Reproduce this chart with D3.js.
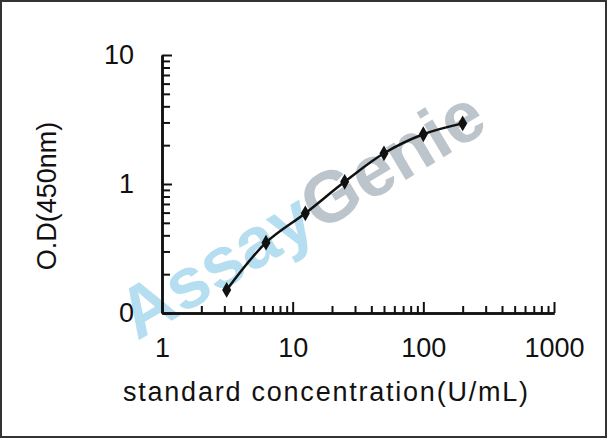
<!DOCTYPE html>
<html>
<head>
<meta charset="utf-8">
<script src="https://cdn.jsdelivr.net/npm/d3@7"></script>
<style>
  body { margin: 0; background: #fff; }
  svg { display: block; font-family: "Liberation Sans", Arial, sans-serif; }
</style>
</head>
<body>
<svg id="chart" width="608" height="441"></svg>
<script>
// standard curve
var concentration = [3.125, 6.25, 12.5, 25, 50, 100, 200];
var od = [0.151, 0.351, 0.593, 1.04, 1.73, 2.43, 2.95];

var xMajor = [1, 10, 100, 1000];
var xLabels = ["1", "10", "100", "1000"];
var yMajor = [0.1, 1, 10];
var yLabels = ["0", "1", "10"];

var xTitle = "standard concentration(U/mL)";
var yTitle = "O.D(450nm)";

var svg = d3.select("#chart");

var x = d3.scaleLog().domain([1, 1000]).range([162, 554]);
var y = d3.scaleLog().domain([0.1, 10]).range([313, 55]);

var xMinor = x.ticks().filter((t) => xMajor.indexOf(t) < 0);
var yMinor = y.ticks().filter((t) => yMajor.indexOf(t) < 0);

// outer frame
svg.append("rect")
  .attr("x", 1).attr("y", 1)
  .attr("width", 605).attr("height", 436)
  .attr("fill", "none")
  .attr("stroke", "#333")
  .attr("stroke-width", 2);

// watermark, sits under the plot
var wm = svg.append("text")
  .attr("transform", "translate(314,235) rotate(-31)")
  .attr("text-anchor", "middle")
  .style("font-size", "72px")
  .style("font-weight", "bold");
wm.append("tspan").attr("fill", "#b6def1").text("Assay");
wm.append("tspan").attr("fill", "#bcc4cc").text("Genie");

function styleAxis(g) {
  g.selectAll("path, line").attr("stroke", "#111").attr("stroke-width", 2);
  g.selectAll("text").attr("fill", "#111").style("font-size", "27px").style("font-family", "'Liberation Sans', Arial, sans-serif");
}

// x axis: minor ticks then major ticks with labels
svg.append("g")
  .attr("transform", "translate(0,313)")
  .call(d3.axisBottom(x).tickValues(xMinor).tickFormat("").tickSizeInner(-7).tickSizeOuter(0))
  .call(styleAxis);

svg.append("g")
  .attr("transform", "translate(0,313)")
  .call(d3.axisBottom(x).tickValues(xMajor)
    .tickFormat((d, i) => xLabels[i])
    .tickSizeInner(-11).tickSizeOuter(0).tickPadding(25))
  .call(styleAxis);

// y axis
svg.append("g")
  .attr("transform", "translate(162,0)")
  .call(d3.axisLeft(y).tickValues(yMinor).tickFormat("").tickSizeInner(-8).tickSizeOuter(0))
  .call(styleAxis);

svg.append("g")
  .attr("transform", "translate(162,0)")
  .call(d3.axisLeft(y).tickValues(yMajor)
    .tickFormat((d, i) => yLabels[i])
    .tickSizeInner(-10).tickSizeOuter(0).tickPadding(28))
  .call(styleAxis);

svg.selectAll(".domain").attr("stroke-width", 2.5);

// titles
svg.append("text")
  .attr("x", 123).attr("y", 401)
  .attr("textLength", 405)
  .attr("fill", "#111")
  .style("font-size", "27px")
  .text(xTitle);

svg.append("text")
  .attr("transform", "translate(56,196) rotate(-90)")
  .attr("text-anchor", "middle")
  .attr("fill", "#111")
  .style("font-size", "27px")
  .text(yTitle);

// curve + markers
var pts = concentration.map((c, i) => ({ c: c, v: od[i] }));

var line = d3.line()
  .x((d) => x(d.c))
  .y((d) => y(d.v))
  .curve(d3.curveCatmullRom.alpha(0.5));

svg.append("path")
  .datum(pts)
  .attr("d", line)
  .attr("fill", "none")
  .attr("stroke", "#111")
  .attr("stroke-width", 2.5);

svg.selectAll(".pt")
  .data(pts)
  .enter().append("path")
  .attr("class", "pt")
  .attr("transform", (d) => "translate(" + x(d.c) + "," + y(d.v) + ")")
  .attr("d", d3.symbol(d3.symbolDiamond, 72))
  .attr("fill", "#111");
</script>
</body>
</html>
